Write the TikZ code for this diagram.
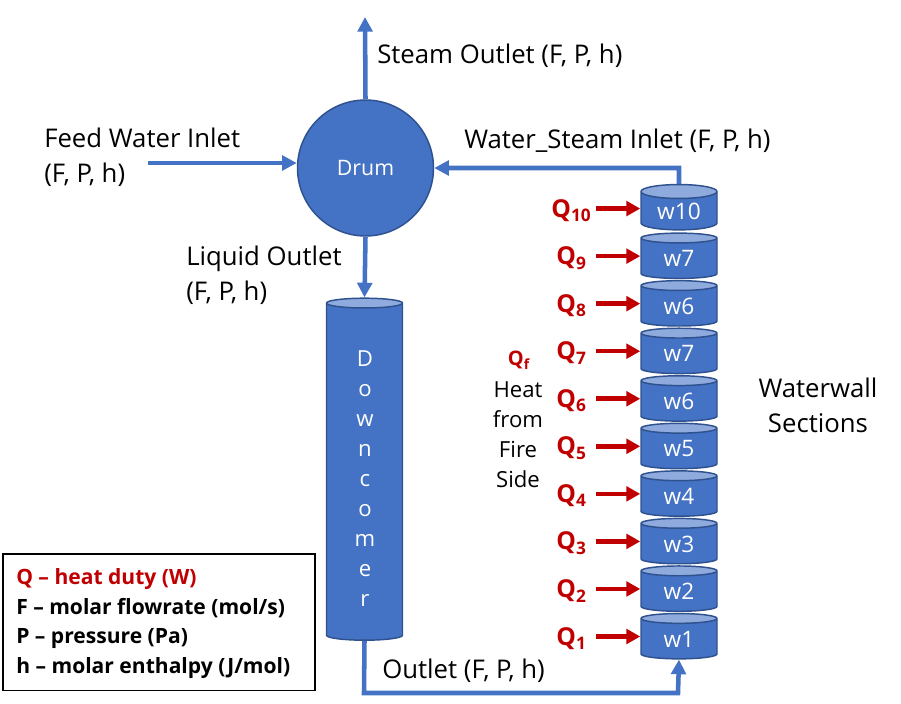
\documentclass[tikz,border=0pt]{standalone}
\usepackage{fontspec}
\setmainfont{Open Sans}
\usetikzlibrary{shapes.geometric,arrows.meta}
\definecolor{flowblue}{HTML}{4472C4}
\definecolor{edgeblue}{HTML}{2F528F}
\definecolor{topblue}{HTML}{8FAADC}
\definecolor{heatred}{HTML}{C00000}
\tikzset{
	flow/.style={draw=flowblue,line width=3.4pt,-{Triangle[length=11pt,width=11pt]}},
	heat/.style={draw=heatred,line width=3.4pt,-{Triangle[length=10.5pt,width=11pt]}},
	tank/.style={cylinder,shape border rotate=90,draw=edgeblue,line width=1.1pt,aspect=0.32,
		cylinder uses custom fill,cylinder body fill=flowblue,cylinder end fill=topblue,
		minimum width=57pt,inner sep=0pt,text=white,font=\fontsize{17}{20}\selectfont},
	lbl/.style={anchor=west,align=left,inner sep=0pt,font=\fontsize{19.3}{26}\selectfont},
	qlbl/.style={inner sep=0pt,text=heatred,font=\fontsize{18.5}{20}\selectfont\bfseries},
}
\begin{document}
\begin{tikzpicture}[x=0.75pt,y=-0.75pt]
	\useasboundingbox (0,0) rectangle (901,704);

	\node[circle,draw=edgeblue,line width=1.1pt,fill=flowblue,minimum size=102pt,inner sep=0pt,text=white,font=\fontsize{16}{18}\selectfont] (drum) at (365.5,168) {Drum};
	\node[tank,minimum height=256.5pt] (downcomer) at (364.5,472) {\phantom{w1}};
	\node[align=center,text=white,font=\fontsize{16.6}{22.5}\selectfont] (dctext) at (365,479) {D\\o\\w\\n\\c\\o\\m\\e\\r};

	% waterwall stack, bottom to top
	\foreach \n/\t in {1/w1,2/w2,3/w3,4/w4,5/w5,6/w6,7/w7,8/w6,9/w7,10/w10}{
		\node[tank,minimum height=34pt] (w\n) at (679,639-47.55*\n+47.55) {\t};
		\coordinate (h\n) at (596,636.5-47.55*\n+47.55);
		\node[qlbl] (q\n) at (571.5,638.5-47.55*\n+47.55) {Q\textsubscript{\n}};
		\draw[heat] (h\n) -- (h\n -| w\n.west);
	}

	\coordinate (steamend) at (365,17);
	\coordinate (feedstart) at (148,163);
	\coordinate (risertop) at (679,168);
	\coordinate (pipeleft) at (364,693);
	\coordinate (piperight) at (678,693);
	\draw[flow] (drum.north) -- (steamend);
	\draw[flow] (feedstart) -- (feedstart -| drum.west);
	\draw[flow] (w10.north) -- (risertop) -- (drum.east |- risertop);
	\draw[flow] (drum.south) -- (downcomer.north);
	\draw[flow] (downcomer.south) -- (pipeleft) -- (piperight) -- (w1.south);

	\node[lbl] (steam) at (377,56) {Steam Outlet (F, P, h)};
	\node[lbl] (feed) at (44,157) {Feed Water Inlet\\(F, P, h)};
	\node[lbl] (watersteam) at (464,141) {Water\_Steam Inlet (F, P, h)};
	\node[lbl] (liquid) at (186,275.5) {Liquid Outlet\\(F, P, h)};
	\node[lbl] (outlet) at (382,671) {Outlet (F, P, h)};
	\node[align=center,font=\fontsize{19.3}{26}\selectfont] (sections) at (818,405.5) {Waterwall\\Sections};
	\node[text=heatred,font=\fontsize{15}{16}\selectfont\bfseries] (qf) at (519,360) {Q\textsubscript{f}};
	\node[align=center,font=\fontsize{16.6}{22.5}\selectfont] (fire) at (518,435) {Heat\\from\\Fire\\Side};

	\node[draw=black,line width=1.2pt,anchor=north west,minimum width=234pt,minimum height=102.5pt,inner sep=0pt] (legend) at (2,553) {};
	\node[anchor=west,align=left,inner sep=0pt,font=\fontsize{15.8}{22.3}\selectfont\bfseries] (legendtext) at (16,623.5) {\textcolor{heatred}{Q – heat duty (W)}\\F – molar flowrate (mol/s)\\P – pressure (Pa)\\h – molar enthalpy (J/mol)};
\end{tikzpicture}
\end{document}
